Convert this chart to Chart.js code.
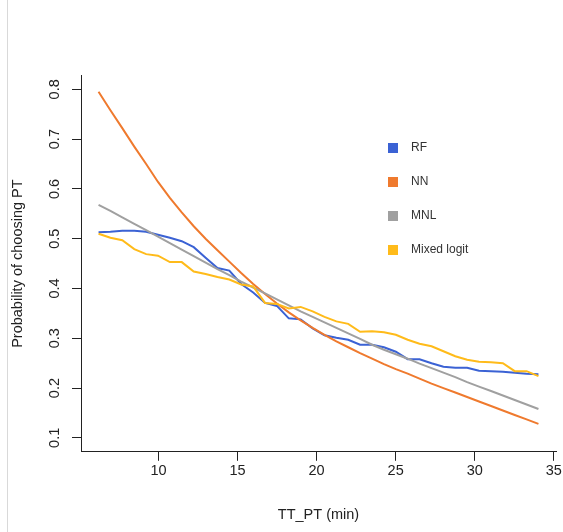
<!DOCTYPE html>
<html>
<head>
<meta charset="utf-8">
<script src="https://cdn.jsdelivr.net/npm/chart.js@4.4.1/dist/chart.umd.min.js"></script>
<style>
  html, body { margin: 0; padding: 0; background: #fff; }
  #wrap { position: relative; width: 563px; height: 532px; }
  #edge { position: absolute; left: 7px; top: 0; width: 1px; height: 532px; background: #d9d9d9; }
  canvas { position: absolute; left: 0; top: 0; }
</style>
</head>
<body>
<div id="wrap"><div id="edge"></div><canvas id="myChart" width="563" height="532"></canvas></div>
<script>
// travel time by PT (min)
const tt_pt = [6.21, 6.96, 7.71, 8.47, 9.22, 9.97, 10.72, 11.47, 12.23, 12.98,
  13.73, 14.48, 15.23, 15.99, 16.74, 17.49, 18.24, 18.99, 19.75, 20.50,
  21.25, 22.00, 22.75, 23.51, 24.26, 25.01, 25.76, 26.51, 27.27, 28.02,
  28.77, 29.52, 30.27, 31.03, 31.78, 32.53, 33.28, 34.03];

const rf = [0.513, 0.514, 0.516, 0.516, 0.514, 0.508, 0.502, 0.495, 0.483, 0.462,
  0.441, 0.436, 0.409, 0.392, 0.371, 0.365, 0.340, 0.338, 0.320, 0.306,
  0.301, 0.297, 0.287, 0.287, 0.282, 0.273, 0.258, 0.258, 0.250, 0.243,
  0.241, 0.241, 0.235, 0.234, 0.233, 0.231, 0.229, 0.228];

const nn = [0.795, 0.758, 0.722, 0.685, 0.650, 0.614, 0.582, 0.553, 0.525, 0.500,
  0.477, 0.454, 0.431, 0.409, 0.389, 0.370, 0.352, 0.336, 0.321, 0.307,
  0.294, 0.282, 0.270, 0.259, 0.248, 0.238, 0.229, 0.219, 0.209, 0.200,
  0.191, 0.182, 0.173, 0.164, 0.155, 0.146, 0.137, 0.128];

const mnl = [0.568, 0.556, 0.543, 0.530, 0.517, 0.504, 0.491, 0.478, 0.465, 0.452,
  0.439, 0.427, 0.414, 0.402, 0.390, 0.378, 0.366, 0.354, 0.343, 0.332,
  0.321, 0.310, 0.299, 0.287, 0.277, 0.268, 0.259, 0.249, 0.240, 0.231,
  0.222, 0.212, 0.203, 0.194, 0.185, 0.176, 0.167, 0.158];

const mixed = [0.510, 0.502, 0.497, 0.479, 0.469, 0.466, 0.453, 0.453, 0.434, 0.429,
  0.423, 0.418, 0.408, 0.404, 0.371, 0.369, 0.360, 0.363, 0.354, 0.343,
  0.334, 0.329, 0.313, 0.314, 0.312, 0.307, 0.297, 0.289, 0.284, 0.274,
  0.264, 0.257, 0.253, 0.252, 0.250, 0.234, 0.234, 0.224];

const seriesNames = ['RF', 'NN', 'MNL', 'Mixed logit'];
const seriesColors = ['#3b62d4', '#ef7a2e', '#a0a0a0', '#ffbb1a'];
const xTicks = [10, 15, 20, 25, 30, 35];
const yTicks = [0.1, 0.2, 0.3, 0.4, 0.5, 0.6, 0.7, 0.8];

const FONT = '"Liberation Sans", Arial, Helvetica, sans-serif';

function toPoints(ys) {
  return ys.map((y, i) => ({x: tt_pt[i], y: y}));
}

let allSeries = [rf, nn, mnl, mixed];
let datasets = [];
for (let i = 0; i < allSeries.length; ++i) {
  datasets.push({
    label: seriesNames[i],
    data: toPoints(allSeries[i]),
    borderColor: seriesColors[i],
    backgroundColor: seriesColors[i],
    borderWidth: 2,
    pointRadius: 0,
    tension: 0,
    fill: false,
    order: allSeries.length - i   // later series drawn on top, as in R
  });
}

// legend inside the plot, R style: small filled squares
const boxLegend = {
  id: 'boxLegend',
  afterDraw(chart) {
    const ctx = chart.ctx;
    ctx.save();
    ctx.font = '12px ' + FONT;
    ctx.textBaseline = 'middle';
    ctx.textAlign = 'left';
    chart.data.datasets.forEach((ds, i) => {
      let y = 148 + i * 34;
      ctx.fillStyle = ds.borderColor;
      ctx.fillRect(388, y - 5, 10, 10);
      ctx.fillStyle = '#333';
      ctx.fillText(ds.label, 411, y);
    });
    ctx.restore();
  }
};

const config = {
  type: 'line',
  data: {datasets: datasets},
  options: {
    responsive: false,
    animation: false,
    devicePixelRatio: 1,
    layout: {padding: {top: 75.4, right: 7, bottom: 0, left: 0}},
    plugins: {legend: {display: false}, tooltip: {enabled: false}},
    scales: {
      x: {
        type: 'linear',
        min: 5.1,
        max: 35.14,
        afterBuildTicks: (s) => { s.ticks = xTicks.map(v => ({value: v})); },
        afterFit: (s) => { s.height = 80.2; },
        grid: {drawOnChartArea: false, drawTicks: true, tickLength: 9, tickColor: '#222'},
        border: {display: true, color: '#222', width: 1},
        ticks: {
          font: {family: FONT, size: 14.5},
          color: '#222',
          padding: 1,
          maxRotation: 0,
          callback: (v) => v
        },
        title: {
          display: true,
          text: 'TT_PT (min)',
          font: {family: FONT, size: 14.5},
          color: '#222',
          padding: {top: 0, bottom: 8}
        }
      },
      y: {
        type: 'linear',
        min: 0.072,
        max: 0.828,
        afterBuildTicks: (s) => { s.ticks = yTicks.map(v => ({value: v})); },
        afterFit: (s) => { s.width = 81; },
        grid: {drawOnChartArea: false, drawTicks: true, tickLength: 9, tickColor: '#222'},
        border: {display: true, color: '#222', width: 1},
        ticks: {
          font: {family: FONT, size: 14.5},
          color: '#222',
          padding: 7,
          minRotation: 90,
          maxRotation: 90,
          crossAlign: 'center',
          callback: (v) => v.toFixed(1)
        },
        title: {
          display: true,
          text: 'Probability of choosing PT',
          font: {family: FONT, size: 14.5},
          color: '#222',
          padding: {top: 9, bottom: 0}
        }
      }
    }
  },
  plugins: [boxLegend]
};

window.myChart_ = new Chart(document.getElementById('myChart'), config);
</script>
</body>
</html>
